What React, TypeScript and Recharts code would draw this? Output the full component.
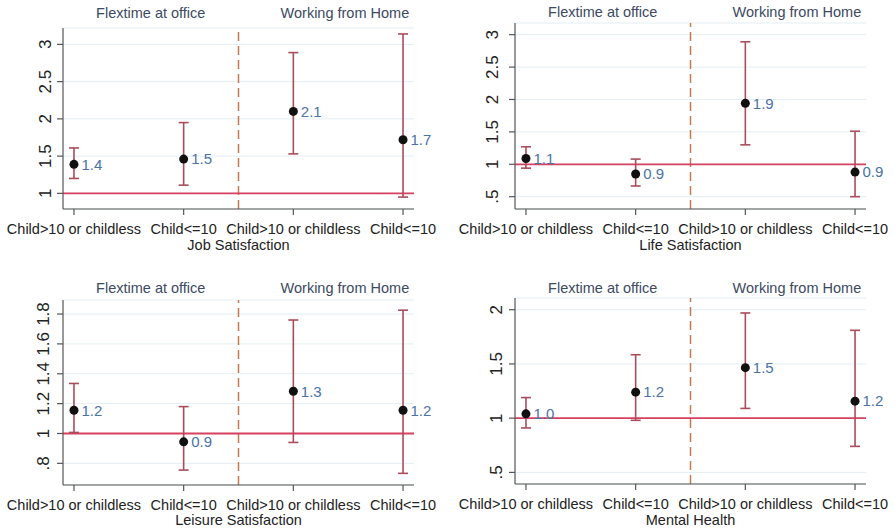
import React from "react";
import {
  ScatterChart,
  Scatter,
  XAxis,
  YAxis,
  CartesianGrid,
  ErrorBar,
  LabelList,
  ReferenceLine,
  ReferenceArea,
  Label,
} from "recharts";

// categories on the x axis (same for every panel)
const categories = ["Child>10 or childless", "Child<=10", "Child>10 or childless", "Child<=10"];

// Job satisfaction
const jobEst = [1.39, 1.46, 2.1, 1.72];
const jobLo = [1.2, 1.11, 1.53, 0.95];
const jobHi = [1.61, 1.95, 2.89, 3.14];
const jobLabels = ["1.4", "1.5", "2.1", "1.7"];
const jobTicks = [1, 1.5, 2, 2.5, 3];

// Life satisfaction
const lifeEst = [1.09, 0.85, 1.94, 0.88];
const lifeLo = [0.94, 0.665, 1.3, 0.5];
const lifeHi = [1.27, 1.08, 2.89, 1.51];
const lifeLabels = ["1.1", "0.9", "1.9", "0.9"];
const lifeTicks = [0.5, 1, 1.5, 2, 2.5, 3];

// Leisure satisfaction
const leisureEst = [1.156, 0.944, 1.283, 1.156];
const leisureLo = [1.007, 0.755, 0.94, 0.733];
const leisureHi = [1.335, 1.18, 1.76, 1.826];
const leisureLabels = ["1.2", "0.9", "1.3", "1.2"];
const leisureTicks = [0.8, 1, 1.2, 1.4, 1.6, 1.8];

// Mental health
const mentalEst = [1.04, 1.24, 1.466, 1.157];
const mentalLo = [0.91, 0.98, 1.09, 0.74];
const mentalHi = [1.19, 1.585, 1.97, 1.81];
const mentalLabels = ["1.0", "1.2", "1.5", "1.2"];
const mentalTicks = [0.5, 1, 1.5, 2];

const FONT = "'Liberation Sans', Arial, sans-serif";
const BAR = "#aa4d5b";
const REF = "#d8405f";
const DASH = "#c4794f";
const VALUE = "#4a73a8";
const TITLE = "#3c4a62";
const TEXT = "#222";
const AXIS = "#555";

const buildRows = (est: number[], lo: number[], hi: number[], labels: string[]) =>
  est.map((v, i) => ({ x: i + 1, y: v, err: [v - lo[i], hi[i] - v], label: labels[i] }));

const fmtY = (v: number) => String(v).replace(/^0\./, ".");

function Panel({
  rows,
  ticks,
  domain,
  axisTitle,
  box,
  plot,
  titleOffset,
  yGap,
  labelOffset,
}: {
  rows: any[];
  ticks: number[];
  domain: [number, number];
  axisTitle: string;
  box: { left: number; top: number; w: number; h: number };
  plot: { left: number; top: number; right: number; bottom: number };
  titleOffset: number;
  yGap: number;
  labelOffset: number;
}) {
  const yTick = ({ x, y, payload }: any) => (
    <text
      x={x}
      y={y}
      transform={`rotate(-90 ${x} ${y})`}
      textAnchor="middle"
      fontSize={17}
      fill={TEXT}
      fontFamily={FONT}
    >
      {fmtY(payload.value)}
    </text>
  );
  const titleStyle = { fontSize: 14.5, fill: TITLE, fontFamily: FONT };
  return (
    <div style={{ position: "absolute", left: box.left, top: box.top }}>
      <ScatterChart
        width={box.w}
        height={box.h}
        margin={{ top: plot.top, right: plot.right, left: 0, bottom: 0 }}
      >
        <CartesianGrid vertical={false} stroke="#e3eef2" strokeWidth={1} />
        <XAxis
          type="number"
          dataKey="x"
          domain={[0.9, 4.1]}
          ticks={[1, 2, 3, 4]}
          interval={0}
          allowDataOverflow
          height={plot.bottom}
          tickFormatter={(v: number) => categories[v - 1]}
          tick={{ fontSize: 14.5, fill: TEXT, fontFamily: FONT }}
          tickSize={6}
          tickMargin={9}
          stroke={AXIS}
          strokeWidth={1.2}
        >
          <Label
            value={axisTitle}
            position="insideBottom"
            offset={labelOffset}
            style={{ fontSize: 14.5, fill: TEXT, fontFamily: FONT }}
          />
        </XAxis>
        <YAxis
          type="number"
          dataKey="y"
          domain={domain}
          ticks={ticks}
          allowDataOverflow
          width={plot.left}
          tick={yTick}
          tickSize={6}
          tickMargin={yGap}
          stroke={AXIS}
          strokeWidth={1.2}
        />
        <ReferenceArea
          x1={0.9}
          x2={2.5}
          fill="none"
          stroke="none"
          ifOverflow="visible"
          label={{ value: "Flextime at office", position: "top", offset: titleOffset, ...titleStyle }}
        />
        <ReferenceArea
          x1={2.84}
          x2={4.1}
          fill="none"
          stroke="none"
          ifOverflow="visible"
          label={{ value: "Working from Home", position: "top", offset: titleOffset, ...titleStyle }}
        />
        <ReferenceLine x={2.5} stroke={DASH} strokeWidth={1.5} strokeDasharray="9 5" />
        <ReferenceLine y={1} stroke={REF} strokeWidth={1.8} />
        <Scatter
          data={rows}
          isAnimationActive={false}
          shape={(p: any) => <circle cx={p.cx} cy={p.cy} r={4.5} fill="#111" />}
        >
          <ErrorBar dataKey="err" direction="y" width={5} stroke={BAR} strokeWidth={1.6} />
          <LabelList
            dataKey="label"
            position="right"
            offset={3}
            style={{ fontSize: 15, fill: VALUE, fontFamily: FONT }}
          />
        </Scatter>
      </ScatterChart>
    </div>
  );
}

export default function App() {
  return (
    <div
      style={{
        position: "absolute",
        left: 0,
        top: 0,
        width: 895,
        height: 532,
        background: "#fff",
        fontFamily: FONT,
      }}
    >
      <Panel
        rows={buildRows(jobEst, jobLo, jobHi, jobLabels)}
        ticks={jobTicks}
        domain={[0.79, 3.22]}
        axisTitle="Job Satisfaction"
        box={{ left: 0, top: 0, w: 447, h: 265 }}
        plot={{ left: 63, top: 28, right: 33, bottom: 56 }}
        titleOffset={10}
        yGap={6}
        labelOffset={15}
      />
      <Panel
        rows={buildRows(lifeEst, lifeLo, lifeHi, lifeLabels)}
        ticks={lifeTicks}
        domain={[0.31, 3.18]}
        axisTitle="Life Satisfaction"
        box={{ left: 447, top: 0, w: 448, h: 265 }}
        plot={{ left: 68, top: 23, right: 29, bottom: 56 }}
        titleOffset={6}
        yGap={11}
        labelOffset={15}
      />
      <Panel
        rows={buildRows(leisureEst, leisureLo, leisureHi, leisureLabels)}
        ticks={leisureTicks}
        domain={[0.655, 1.894]}
        axisTitle="Leisure Satisfaction"
        box={{ left: 0, top: 265, w: 447, h: 267 }}
        plot={{ left: 63, top: 35, right: 33, bottom: 47 }}
        titleOffset={7}
        yGap={8}
        labelOffset={7}
      />
      <Panel
        rows={buildRows(mentalEst, mentalLo, mentalHi, mentalLabels)}
        ticks={mentalTicks}
        domain={[0.393, 2.108]}
        axisTitle="Mental Health"
        box={{ left: 447, top: 265, w: 448, h: 267 }}
        plot={{ left: 68, top: 33, right: 29, bottom: 48 }}
        titleOffset={5}
        yGap={7}
        labelOffset={7}
      />
    </div>
  );
}
